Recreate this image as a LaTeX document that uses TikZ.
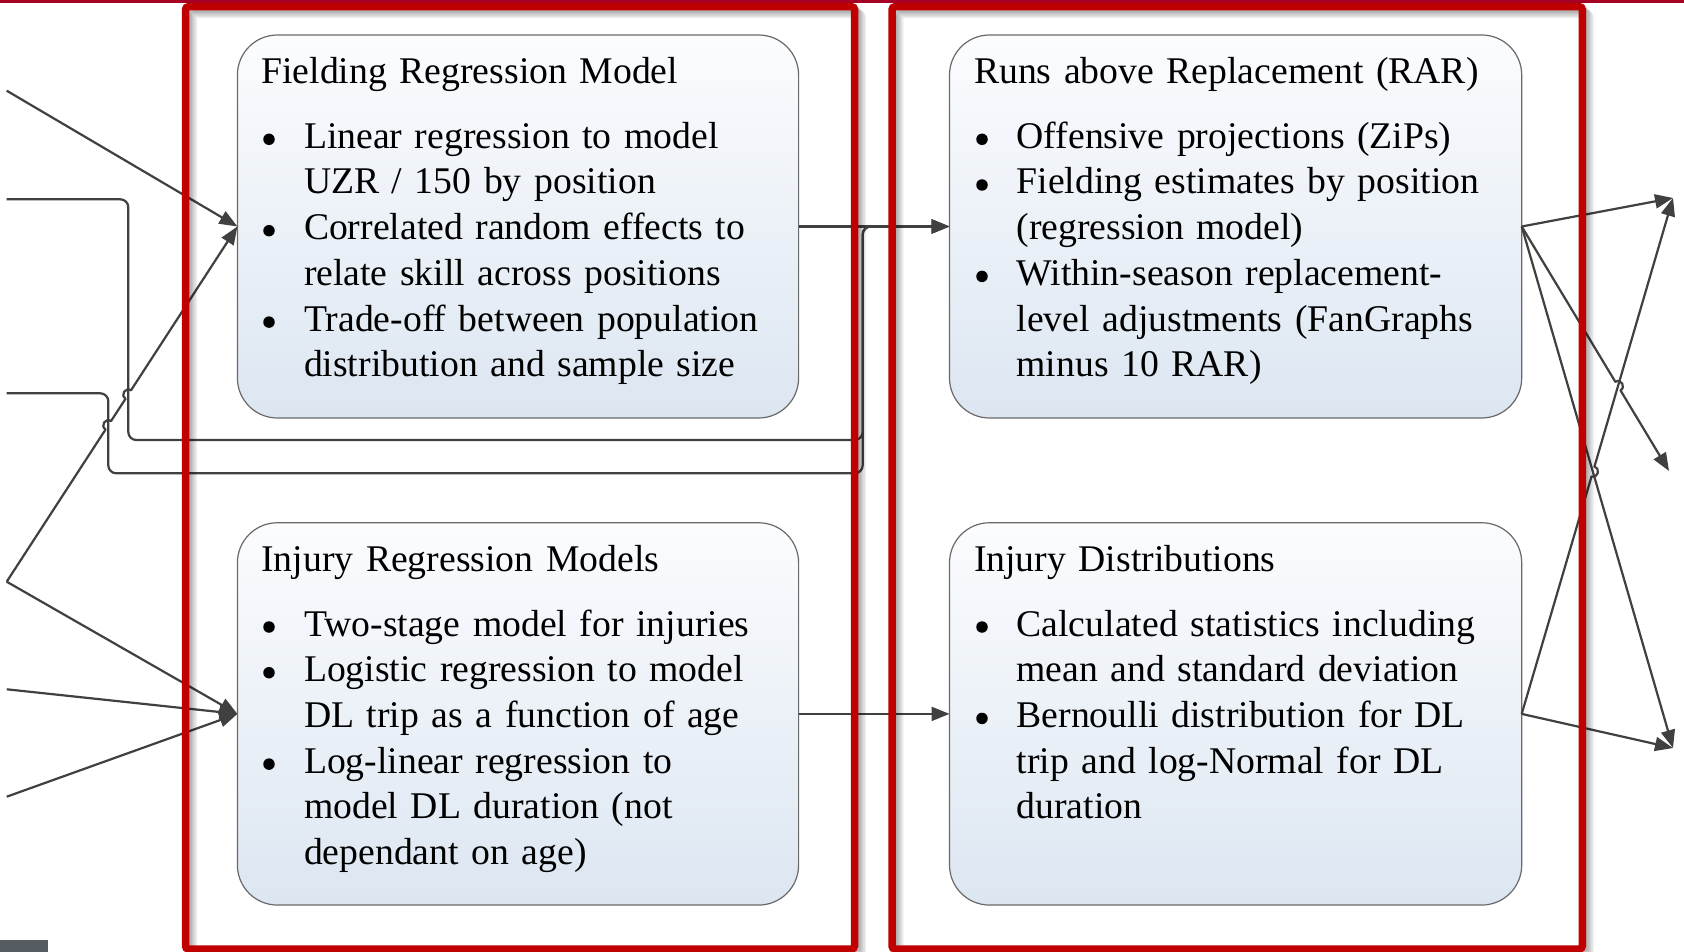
\documentclass[tikz,border=0pt]{standalone}
\usepackage{fontspec}
\setmainfont{Liberation Serif}
\usetikzlibrary{arrows.meta,calc}

\definecolor{topbar}{RGB}{166,0,36}
\definecolor{framered}{RGB}{192,0,0}
\definecolor{conncol}{RGB}{64,64,64}
\definecolor{boxtop}{RGB}{251,252,254}
\definecolor{boxbot}{RGB}{220,230,241}
\definecolor{boxline}{RGB}{105,105,105}
\definecolor{footgray}{RGB}{84,91,97}

\newcommand{\contl}{\hspace*{42.6pt}}

\tikzset{
  rbox/.style={draw=boxline, line width=1.2pt, rounded corners=40pt,
    top color=boxtop, bottom color=boxbot, inner sep=0pt, outer sep=0pt},
  txt/.style={anchor=base west, inner sep=0pt, outer sep=0pt, text width=600pt,
    align=left, font={\fontsize{37.7pt}{45.7pt}\selectfont}},
  bulletdot/.style={circle, fill=black, inner sep=0pt, minimum size=11.5pt},
  connline/.style={draw=conncol, line width=2.2pt, line join=round},
  arr/.style={connline, -{Triangle[length=18pt,width=14pt]}},
  redframe/.style={draw=framered, line width=7.5pt, rounded corners=3pt},
  fshadow/.style={draw=black, draw opacity=0.06, line width=7.5pt, rounded corners=3pt},
}

\begin{document}
\begin{tikzpicture}[x=1pt,y=-1pt]
\useasboundingbox (0,0) rectangle (1684,952);
\fill[white] (0,0) rectangle (1684,952);

% off-page end points
\coordinate (s1) at (6.7,90.7);
\coordinate (s2) at (6.7,199.3);
\coordinate (s3) at (6.7,393.3);
\coordinate (s4) at (6.7,581.7);
\coordinate (s5) at (6.7,689.3);
\coordinate (s6) at (6.7,796.7);
\coordinate (t1) at (1673,198);
\coordinate (t2) at (1669,471);
\coordinate (t3) at (1673,748);

% boxes
\node[rbox, minimum width=561.2pt, minimum height=383pt] (field) at (518,226.5) {};
\node[rbox, minimum width=561.2pt, minimum height=382.3pt] (injreg) at (518,713.9) {};
\node[rbox, minimum width=572.2pt, minimum height=383pt] (rar) at (1235.6,226.5) {};
\node[rbox, minimum width=572.2pt, minimum height=382.3pt] (injdist) at (1235.6,713.9) {};

% texts
\node[txt] (fieldtxt) at (261.4,83.3) {Fielding Regression Model\\[19.3pt]
\contl Linear regression to model\\
\contl UZR / 150 by position\\
\contl Correlated random effects to\\
\contl relate skill across positions\\
\contl Trade-off between population\\
\contl distribution and sample size};

\node[txt] (injregtxt) at (261.4,571) {Injury Regression Models\\[19.3pt]
\contl Two-stage model for injuries\\
\contl Logistic regression to model\\
\contl DL trip as a function of age\\
\contl Log-linear regression to\\
\contl model DL duration (not\\
\contl dependant on age)};

\node[txt] (rartxt) at (974,83.3) {Runs above Replacement (RAR)\\[19.3pt]
\contl Offensive projections (ZiPs)\\
\contl Fielding estimates by position\\
\contl (regression model)\\
\contl Within-season replacement-\\
\contl level adjustments (FanGraphs\\
\contl minus 10 RAR)};

\node[txt] (injdisttxt) at (974,571) {Injury Distributions\\[19.3pt]
\contl Calculated statistics including\\
\contl mean and standard deviation\\
\contl Bernoulli distribution for DL\\
\contl trip and log-Normal for DL\\
\contl duration};

% bullets
\node[bulletdot] (fb1) at (269,139.3) {};
\node[bulletdot] (fb2) at (269,230.7) {};
\node[bulletdot] (fb3) at (269,322.1) {};
\node[bulletdot] (ib1) at (269,627) {};
\node[bulletdot] (ib2) at (269,672.7) {};
\node[bulletdot] (ib3) at (269,764.1) {};
\node[bulletdot] (rb1) at (982,139.3) {};
\node[bulletdot] (rb2) at (982,185) {};
\node[bulletdot] (rb3) at (982,276.4) {};
\node[bulletdot] (db1) at (982,627) {};
\node[bulletdot] (db2) at (982,718.4) {};

% helper coordinates
\coordinate (fw) at (field.west);
\coordinate (re) at (rar.east);
\coordinate (de) at (injdist.east);
\coordinate (v1a) at (108.3,380);
\coordinate (v1b) at (108.3,480);
\coordinate (v2a) at (128.3,190);
\coordinate (v2b) at (128.3,450);
\coordinate (j1) at (intersection of s4--fw and v1a--v1b);
\coordinate (j2) at (intersection of s4--fw and v2a--v2b);
\coordinate (j1a) at ($(j1)!5pt!(s4)$);
\coordinate (j1b) at ($(j1)!5pt!(fw)$);
\coordinate (j2a) at ($(j2)!5pt!(s4)$);
\coordinate (j2b) at ($(j2)!5pt!(fw)$);
\coordinate (k1) at (intersection of re--t2 and de--t1);
\coordinate (k1a) at ($(k1)!5pt!(re)$);
\coordinate (k1b) at ($(k1)!5pt!(t2)$);
\coordinate (k2) at (intersection of de--t1 and re--t3);
\coordinate (k2a) at ($(k2)!5pt!(de)$);
\coordinate (k2b) at ($(k2)!5pt!(t1)$);

% left connectors
\draw[arr] (s1) -- (field.west);
\draw[arr, rounded corners=8pt] (s2) -| (128.3,440) -- (862.7,440) |- (rar.west);
\draw[arr, rounded corners=8pt] (s3) -| (108.3,473.3) -- (862.7,473.3) |- (rar.west);
\draw[arr] (s4) -- (j1a)
  .. controls ($(j1a)!6.7pt!90:(j1b)$) and ($(j1b)!6.7pt!-90:(j1a)$) .. (j1b)
  -- (j2a)
  .. controls ($(j2a)!6.7pt!90:(j2b)$) and ($(j2b)!6.7pt!-90:(j2a)$) .. (j2b)
  -- (field.west);
\draw[arr] (s4) -- (injreg.west);
\draw[arr] (s5) -- (injreg.west);
\draw[arr] (s6) -- (injreg.west);

% middle connectors
\draw[arr] (field.east) -- (rar.west);
\draw[arr] (injreg.east) -- (injdist.west);

% right connectors
\draw[arr] (rar.east) -- (t1);
\draw[arr] (re) -- (k1a)
  .. controls ($(k1a)!6.7pt!90:(k1b)$) and ($(k1b)!6.7pt!-90:(k1a)$) .. (k1b)
  -- (t2);
\draw[arr] (rar.east) -- (t3);
\draw[arr] (de) -- (k2a)
  .. controls ($(k2a)!6.7pt!-90:(k2b)$) and ($(k2b)!6.7pt!90:(k2a)$) .. (k2b)
  -- (t1);
\draw[arr] (injdist.east) -- (t3);

% frames with shadows
\foreach \k in {1,...,6} {
  \draw[fshadow, xshift=\k*1.3pt, yshift=-\k*1.3pt] (185.5,6.7) rectangle (854.5,949);
  \draw[fshadow, xshift=\k*1.3pt, yshift=-\k*1.3pt] (892,6.7) rectangle (1582.3,949);
}
\draw[redframe] (185.5,6.7) rectangle (854.5,949);
\draw[redframe] (892,6.7) rectangle (1582.3,949);

% top bar and footer mark
\fill[topbar] (0,0) rectangle (1684,3.3);
\fill[footgray] (0,940) rectangle (48,952);
\end{tikzpicture}
\end{document}
